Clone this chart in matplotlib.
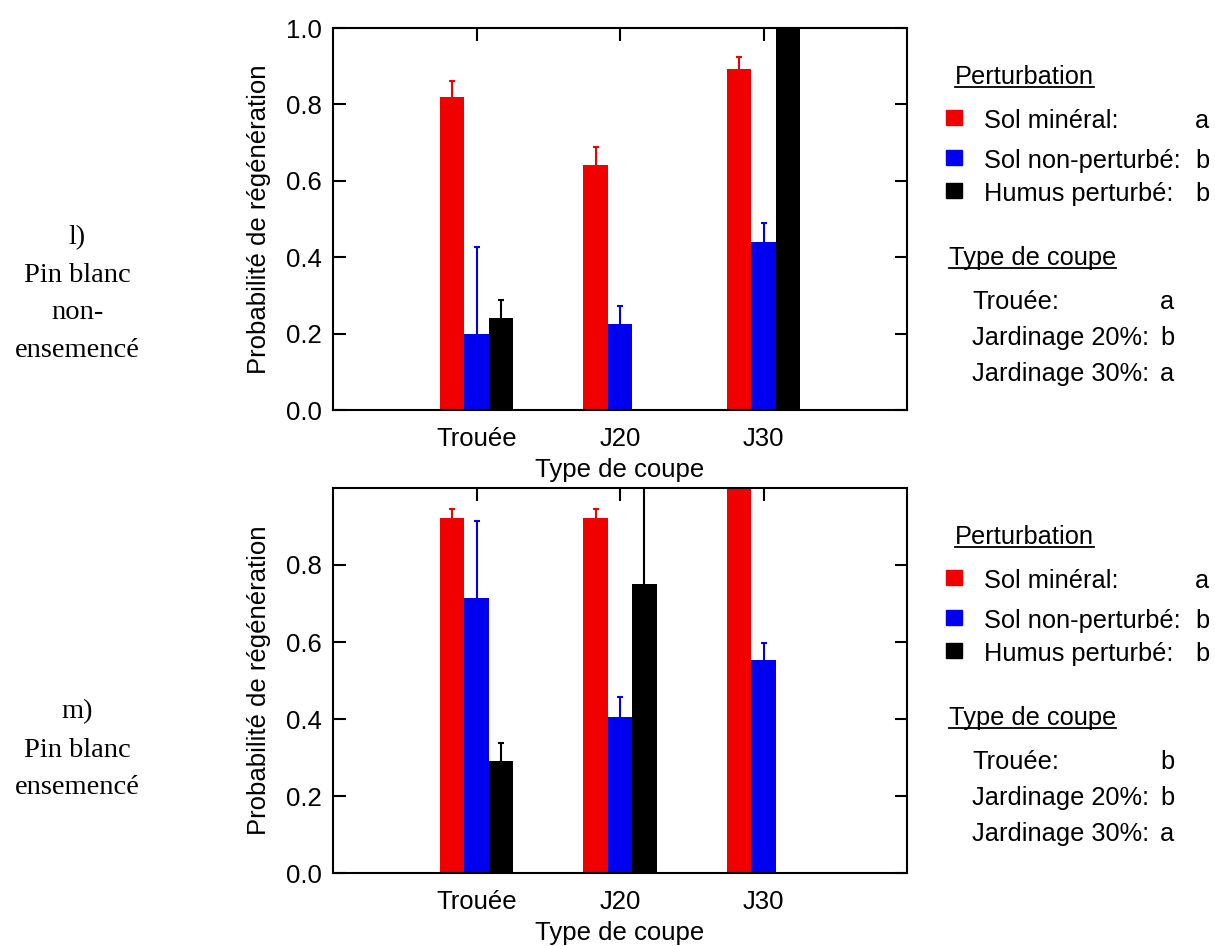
import numpy as np
import matplotlib
matplotlib.use("Agg")
import matplotlib.pyplot as plt
from matplotlib.lines import Line2D
from matplotlib.patches import Rectangle

plt.rcParams["font.family"] = ["Liberation Sans", "DejaVu Sans"]

# --- data ---
categories = ["Trouée", "J20", "J30"]
series_names = ["Sol minéral", "Sol non-perturbé", "Humus perturbé"]
series_colors = ["#f00000", "#0000f0", "#000000"]

# panel l) Pin blanc non-ensemencé
l_mineral = [0.820, 0.642, 0.892]
l_mineral_top = [0.861, 0.688, 0.923]
l_nonpert = [0.199, 0.224, 0.439]
l_nonpert_top = [0.428, 0.271, 0.490]
l_humus = [0.241, np.nan, 1.0]
l_humus_top = [0.287, np.nan, np.nan]

# panel m) Pin blanc ensemencé
m_mineral = [0.921, 0.921, 1.0]
m_mineral_top = [0.946, 0.946, np.nan]
m_nonpert = [0.714, 0.406, 0.553]
m_nonpert_top = [0.915, 0.457, 0.598]
m_humus = [0.292, 0.750, np.nan]
m_humus_top = [0.338, 1.10, np.nan]

l_letters = ["a", "b", "b"]
m_letters = ["a", "b", "b"]
coupe_names = ["Trouée:", "Jardinage 20%:", "Jardinage 30%:"]
l_coupe_letters = ["a", "b", "a"]
m_coupe_letters = ["b", "b", "a"]

W, H = 1215, 946
FS = 18.5      # axes text
LFS = 18.3     # legend text


def fx(px):
    return px / W


def fy(py):
    return 1 - py / H


def draw_panel(ax, values, tops, yticks):
    x = np.arange(1, len(categories) + 1)
    width = 0.17
    offsets = [-width, 0.0, width]
    for vals, ups, col, off in zip(values, tops, series_colors, offsets):
        vals = np.asarray(vals, dtype=float)
        ups = np.asarray(ups, dtype=float)
        ok = ~np.isnan(vals)
        ax.bar(x[ok] + off, vals[ok], width=width, color=col, zorder=2)
        ek = ok & ~np.isnan(ups)
        eb = ax.errorbar(x[ek] + off, vals[ek],
                         yerr=[np.zeros(ek.sum()), ups[ek] - vals[ek]],
                         fmt="none", ecolor=col, elinewidth=1.5, capsize=2.2,
                         capthick=1.5, zorder=3)
        # only the upper cap is shown
        eb[1][0].set_visible(False)
    ax.set_xlim(0, 4)
    ax.set_ylim(0, 1.0)
    ax.set_xticks(x)
    ax.set_xticklabels(categories, fontsize=FS)
    ax.set_yticks(yticks)
    ax.set_yticklabels([f"{t:.1f}" for t in yticks], fontsize=FS)
    ax.set_axisbelow(True)
    ax.tick_params(direction="in", length=9, width=1.5, top=True, right=True)
    ax.tick_params(axis="x", pad=12)
    ax.tick_params(axis="y", pad=8)
    for s in ax.spines.values():
        s.set_linewidth(1.5)
    ax.set_xlabel("Type de coupe", fontsize=FS, labelpad=5)
    ax.set_ylabel("Probabilité de régénération", fontsize=FS, labelpad=11)


def draw_legend(fig, dy, letters, coupe_letters):
    heads = []
    heads.append(fig.text(fx(955), fy(77 + dy), "Perturbation", fontsize=LFS,
                          va="center", ha="left"))
    rows = [121, 161, 194]
    for i, (name, col, let) in enumerate(zip(series_names, series_colors, letters)):
        yy = rows[i] + dy
        fig.add_artist(Rectangle((fx(946), fy(yy + 4)), fx(16), 15 / H,
                                 color=col, transform=fig.transFigure))
        fig.text(fx(984), fy(yy), name + ":", fontsize=LFS, va="center", ha="left")
        fig.text(fx(1209), fy(yy), let, fontsize=LFS, va="center", ha="right")
    heads.append(fig.text(fx(949), fy(258 + dy), "Type de coupe", fontsize=LFS,
                          va="center", ha="left"))
    crow = [302, 338, 374]
    for i, (name, let) in enumerate(zip(coupe_names, coupe_letters)):
        yy = crow[i] + dy
        fig.text(fx(972), fy(yy), name, fontsize=LFS, va="center", ha="left")
        fig.text(fx(1174), fy(yy), let, fontsize=LFS, va="center", ha="right")
    return heads


fig = plt.figure(figsize=(W / 100, H / 100), dpi=100)
ax1 = fig.add_axes([fx(333), fy(410), fx(907 - 333), (410 - 28) / H])
ax2 = fig.add_axes([fx(333), fy(873), fx(907 - 333), (873 - 488) / H])

draw_panel(ax1, [l_mineral, l_nonpert, l_humus],
           [l_mineral_top, l_nonpert_top, l_humus_top],
           [0.0, 0.2, 0.4, 0.6, 0.8, 1.0])
draw_panel(ax2, [m_mineral, m_nonpert, m_humus],
           [m_mineral_top, m_nonpert_top, m_humus_top],
           [0.0, 0.2, 0.4, 0.6, 0.8])

under = draw_legend(fig, 0, l_letters, l_coupe_letters)
under += draw_legend(fig, 460, m_letters, m_coupe_letters)

serif = ["Liberation Serif", "DejaVu Serif"]
fig.text(fx(77), fy(294), "l)\nPin blanc\nnon-\nensemencé", fontsize=20.5,
         family=serif, ha="center", va="center", linespacing=1.68)
fig.text(fx(77), fy(750), "m)\nPin blanc\nensemencé", fontsize=20.5,
         family=serif, ha="center", va="center", linespacing=1.68)

# underline the legend headings
fig.canvas.draw()
r = fig.canvas.get_renderer()
inv = fig.transFigure.inverted()
for t in under:
    bb = t.get_window_extent(r)
    (x0, y0), (x1, y1) = inv.transform([[bb.x0, bb.y0], [bb.x1, bb.y1]])
    yl = y0 + 2.5 / H
    fig.add_artist(Line2D([x0, x1], [yl, yl], color="black", lw=1.3,
                          transform=fig.transFigure))

fig.savefig("out.png", dpi=100)
